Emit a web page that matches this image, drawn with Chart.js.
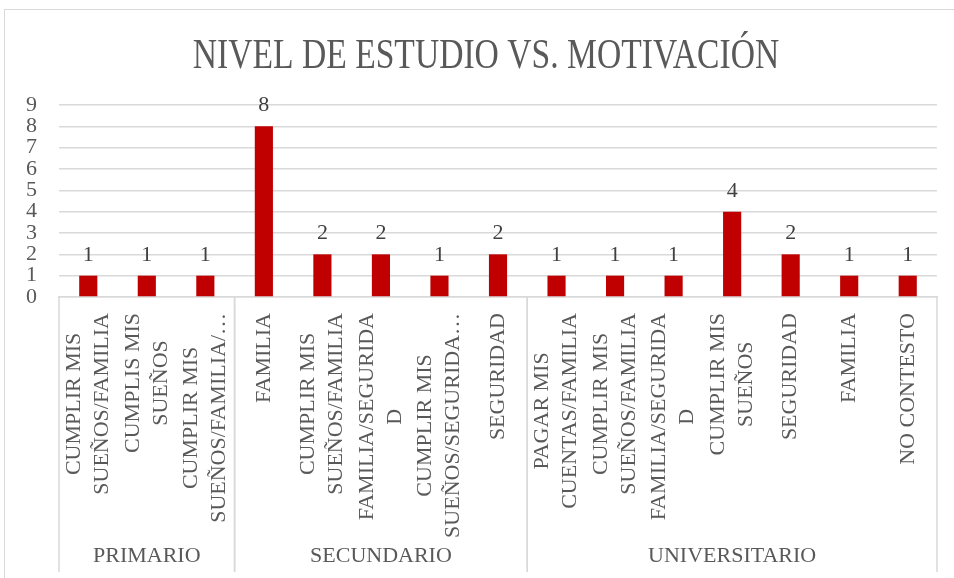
<!DOCTYPE html>
<html lang="es">
<head>
    <meta charset="UTF-8">
    <title>Nivel de estudio vs. motivación</title>
    <script src="https://cdn.jsdelivr.net/npm/chart.js"></script>
    <style>
        html, body { margin: 0; padding: 0; background: #ffffff; }
        #caja { position: relative; width: 954px; height: 578px; overflow: hidden; }
        #marco { position: absolute; left: 4px; top: 9px; width: 960px; height: 600px; border: 1px solid #d9d9d9; }
        #miGrafico { position: absolute; left: 0; top: 0; }
    </style>
</head>
<body>
<div id="caja">
    <div id="marco"></div>
    <canvas id="miGrafico" width="954" height="578"></canvas>
</div>
<script>
    // datos
    const titulo = 'NIVEL DE ESTUDIO VS. MOTIVACIÓN';

    const motivaciones = [
        ['CUMPLIR MIS', 'SUEÑOS/FAMILIA'],
        ['CUMPLIS MIS', 'SUEÑOS'],
        ['CUMPLIR MIS', 'SUEÑOS/FAMILIA/…'],
        ['FAMILIA'],
        ['CUMPLIR MIS', 'SUEÑOS/FAMILIA'],
        ['FAMILIA/SEGURIDA', 'D'],
        ['CUMPLIR MIS', 'SUEÑOS/SEGURIDA…'],
        ['SEGURIDAD'],
        ['PAGAR MIS', 'CUENTAS/FAMILIA'],
        ['CUMPLIR MIS', 'SUEÑOS/FAMILIA'],
        ['FAMILIA/SEGURIDA', 'D'],
        ['CUMPLIR MIS', 'SUEÑOS'],
        ['SEGURIDAD'],
        ['FAMILIA'],
        ['NO CONTESTO']
    ];

    const cantidades = [1, 1, 1, 8, 2, 2, 1, 2, 1, 1, 1, 4, 2, 1, 1];

    const niveles = ['PRIMARIO', 'SECUNDARIO', 'UNIVERSITARIO'];
    const porNivel = [3, 5, 7];

    const valoresEje = [0, 1, 2, 3, 4, 5, 6, 7, 8, 9];

    const gris = '#595959';
    const linea = '#d9d9d9';
    const fuente = "'Liberation Serif', 'DejaVu Serif', serif";

    // titulo un poco angosto, como en el original
    const pluginTitulo = {
        id: 'pluginTitulo',
        afterDraw(chart) {
            const ctx = chart.ctx;
            ctx.save();
            ctx.font = '42px ' + fuente;
            ctx.fillStyle = gris;
            ctx.textAlign = 'center';
            ctx.textBaseline = 'alphabetic';
            ctx.translate(486, 68);
            ctx.scale(0.8, 1);
            ctx.fillText(titulo, 0, 0);
            ctx.restore();
        }
    };

    // numeros encima de cada barra
    const pluginEtiquetas = {
        id: 'pluginEtiquetas',
        afterDatasetsDraw(chart) {
            const ctx = chart.ctx;
            const meta = chart.getDatasetMeta(0);
            ctx.save();
            ctx.font = '22px ' + fuente;
            ctx.fillStyle = '#404040';
            ctx.textAlign = 'center';
            ctx.textBaseline = 'alphabetic';
            meta.data.forEach(function (barra, i) {
                ctx.fillText(String(cantidades[i]), barra.x, barra.y - 15);
            });
            ctx.restore();
        }
    };

    // los dos niveles del eje x: motivaciones giradas, niveles y separadores
    const pluginNiveles = {
        id: 'pluginNiveles',
        afterDraw(chart) {
            const ctx = chart.ctx;
            const x = chart.scales.x;
            const paso = x.getPixelForValue(1) - x.getPixelForValue(0);
            const arriba = chart.chartArea.bottom;
            const abajo = 572;
            ctx.save();
            ctx.font = '22px ' + fuente;
            ctx.fillStyle = gris;

            // motivaciones: texto vertical, la linea mas larga pegada arriba y las demas centradas
            ctx.textAlign = 'center';
            ctx.textBaseline = 'middle';
            motivaciones.forEach(function (lineas, i) {
                const cx = x.getPixelForValue(i);
                let largo = 0;
                lineas.forEach(t => { largo = Math.max(largo, ctx.measureText(t).width); });
                lineas.forEach(function (t, j) {
                    const lx = cx + (j - (lineas.length - 1) / 2) * 28;
                    ctx.save();
                    ctx.translate(lx, arriba + 16 + largo / 2);
                    ctx.rotate(-Math.PI / 2);
                    ctx.fillText(t, 0, 0);
                    ctx.restore();
                });
            });

            ctx.strokeStyle = linea;
            ctx.lineWidth = 1.5;
            let inicio = 0;
            for (let n = 0; n < niveles.length; n++) {
                const izq = x.getPixelForValue(inicio) - paso / 2;
                const der = x.getPixelForValue(inicio + porNivel[n] - 1) + paso / 2;
                ctx.beginPath();
                ctx.moveTo(izq, arriba);
                ctx.lineTo(izq, abajo);
                ctx.moveTo(der, arriba);
                ctx.lineTo(der, abajo);
                ctx.stroke();
                ctx.fillText(niveles[n], (izq + der) / 2, 556);
                inicio += porNivel[n];
            }
            ctx.restore();
        }
    };

    const config = {
        type: 'bar',
        data: {
            labels: motivaciones,
            datasets: [{
                data: cantidades,
                backgroundColor: '#c00000',
                barPercentage: 0.31,
                categoryPercentage: 1
            }]
        },
        options: {
            responsive: false,
            animation: false,
            layout: { padding: { top: 105, left: 8, right: 17, bottom: 2 } },
            plugins: {
                legend: { display: false },
                title: { display: false },
                tooltip: { enabled: false }
            },
            scales: {
                x: {
                    grid: { display: false },
                    border: { display: true, color: linea, width: 1.5 },
                    ticks: { display: false },
                    afterFit(escala) { escala.height = 279; }
                },
                y: {
                    min: 0,
                    max: 9,
                    afterBuildTicks(escala) {
                        escala.ticks = valoresEje.map(v => ({ value: v }));
                    },
                    grid: { color: linea, lineWidth: 1.5, drawTicks: false },
                    border: { display: false },
                    ticks: {
                        autoSkip: false,
                        padding: 22,
                        color: gris,
                        font: { family: fuente, size: 22 }
                    },
                    afterFit(escala) { escala.width = 51; }
                }
            }
        },
        plugins: [pluginTitulo, pluginEtiquetas, pluginNiveles]
    };

    new Chart(document.getElementById('miGrafico'), config);
</script>
</body>
</html>
